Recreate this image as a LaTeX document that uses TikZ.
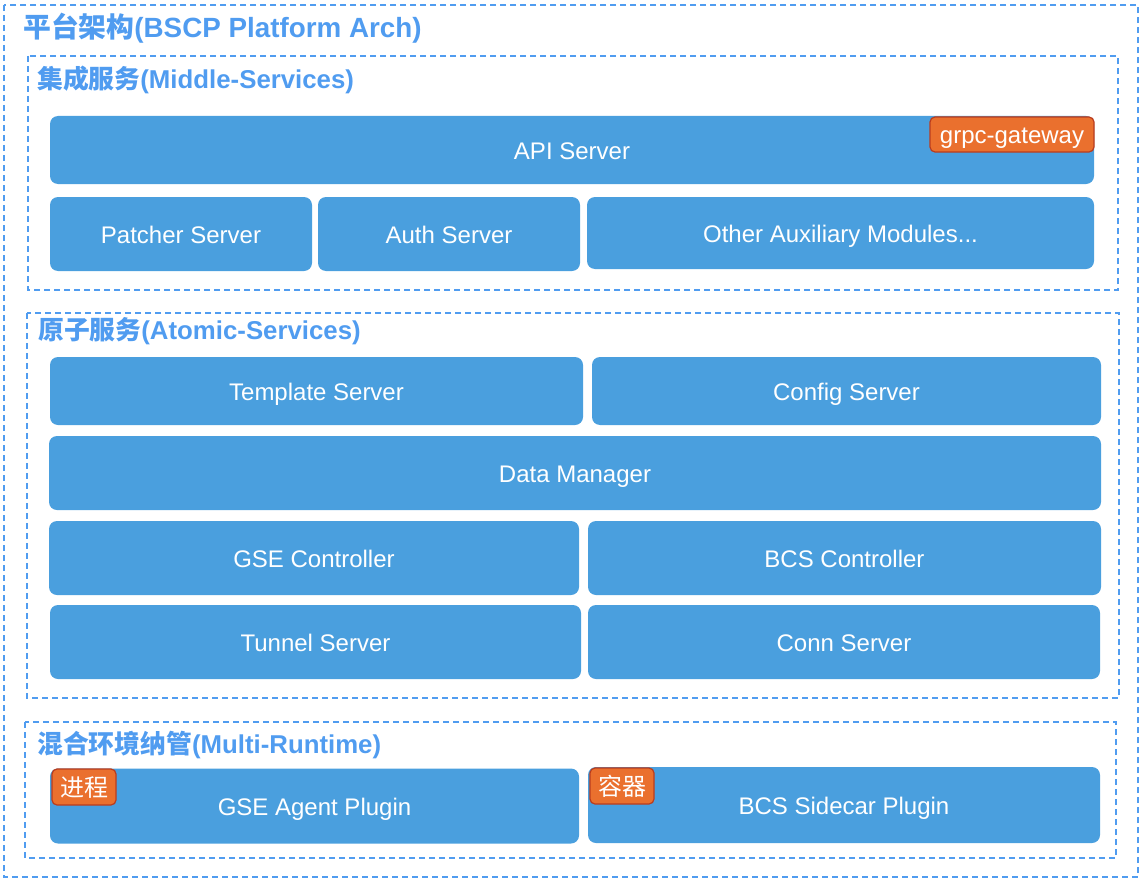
\documentclass[tikz,border=0pt]{standalone}
\usepackage{fontspec}
\setmainfont{Liberation Sans}
\newfontfamily\cjk{Noto Sans CJK SC}
\usepackage{tikz}

\definecolor{svcblue}{RGB}{74,159,222}
\definecolor{grpblue}{RGB}{80,156,240}
\definecolor{tagorange}{RGB}{234,112,46}
\definecolor{tagedge}{RGB}{185,60,30}

\begin{document}
\begin{tikzpicture}[x=1pt,y=-1pt]
          \tikzstyle{every node}+=[inner sep=0pt]
          \tikzstyle{grp}=[draw=grpblue, line width=1.4pt, dash pattern=on 6pt off 4pt]
          \tikzstyle{grptitle}=[anchor=west, text=grpblue, font=\fontsize{25.8}{30}\selectfont\bfseries]
          \tikzstyle{svc}=[fill=svcblue, rounded corners=8pt, text=white, text height=18pt, text depth=0pt, font=\fontsize{24}{28}\selectfont]
          \tikzstyle{tag}=[fill=tagorange, draw=tagedge, line width=1.2pt, rounded corners=5pt, text=white, text height=18pt, text depth=0pt, font=\fontsize{24}{28}\selectfont]
          \useasboundingbox (0,0) rectangle (1148,888);
          % platform
          \draw [grp] (4,5) rectangle (1138,877);
          \node [grptitle, font=\fontsize{27.8}{32}\selectfont\bfseries] (platform) at (23,28) {{\cjk 平台架构}(BSCP Platform Arch)};
          % middle services
          \draw [grp] (28,56) rectangle (1118,290);
          \node [grptitle] (middle) at (37,80) {{\cjk 集成服务}(Middle-Services)};
          \node [svc, minimum width=1044pt, minimum height=68pt] (api) at (572,150) {API Server};
          \node [tag, minimum width=164pt, minimum height=35pt] (grpc) at (1012,134.5) {grpc-gateway};
          \node [svc, minimum width=262pt, minimum height=74pt] (patcher) at (181,234) {Patcher Server};
          \node [svc, minimum width=262pt, minimum height=74pt] (auth) at (449,234) {Auth Server};
          \node [svc, minimum width=507pt, minimum height=72pt] (other) at (840.5,233) {Other Auxiliary Modules...};
          % atomic services
          \draw [grp] (27,313) rectangle (1119,698);
          \node [grptitle] (atomic) at (38,331) {{\cjk 原子服务}(Atomic-Services)};
          \node [svc, minimum width=533pt, minimum height=68pt] (template) at (316.5,391) {Template Server};
          \node [svc, minimum width=509pt, minimum height=68pt] (config) at (846.5,391) {Config Server};
          \node [svc, minimum width=1052pt, minimum height=74pt] (data) at (575,473) {Data Manager};
          \node [svc, minimum width=530pt, minimum height=74pt] (gsectl) at (314,558) {GSE Controller};
          \node [svc, minimum width=513pt, minimum height=74pt] (bcsctl) at (844.5,558) {BCS Controller};
          \node [svc, minimum width=531pt, minimum height=74pt] (tunnel) at (315.5,642) {Tunnel Server};
          \node [svc, minimum width=512pt, minimum height=74pt] (conn) at (844,642) {Conn Server};
          % multi runtime
          \draw [grp] (25,722) rectangle (1116,858);
          \node [grptitle] (runtime) at (37,745) {{\cjk 混合环境纳管}(Multi-Runtime)};
          \node [svc, minimum width=529pt, minimum height=75pt] (gseagent) at (314.5,806) {GSE Agent Plugin};
          \node [svc, minimum width=512pt, minimum height=76pt] (sidecar) at (844,805) {BCS Sidecar Plugin};
          \node [tag, minimum width=64pt, minimum height=36pt] (process) at (84,787) {\cjk 进程};
          \node [tag, minimum width=64pt, minimum height=36pt] (container) at (622,786) {\cjk 容器};
          \end{tikzpicture}
\end{document}
